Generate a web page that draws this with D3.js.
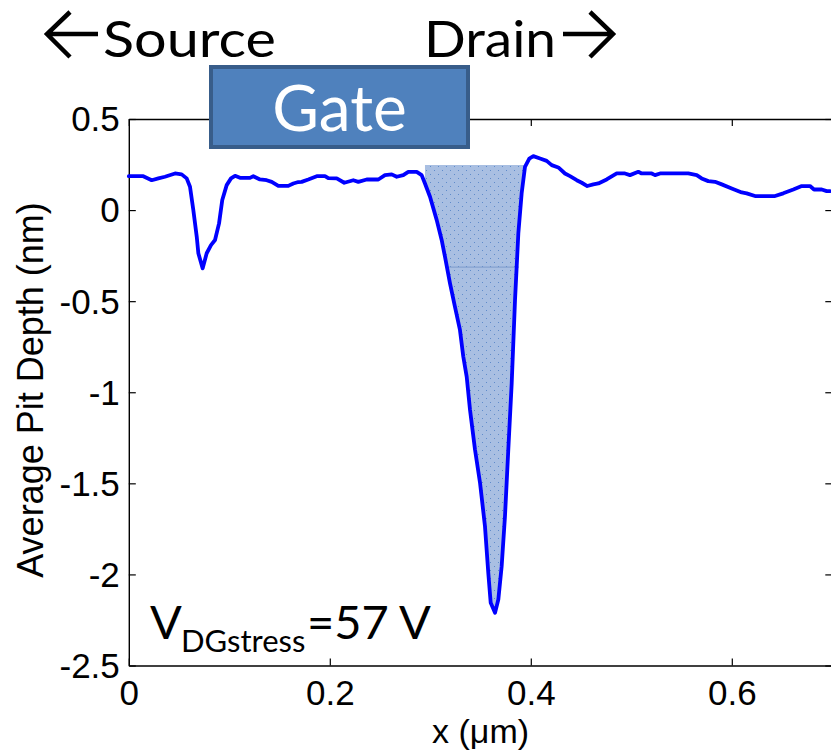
<!DOCTYPE html>
<html>
<head>
<meta charset="utf-8">
<script src="https://cdn.jsdelivr.net/npm/d3@7"></script>
<style>
  html, body { margin: 0; padding: 0; background: #fff; }
  svg { display: block; }
</style>
</head>
<body>
<div id="chart"></div>
<script>
// pit depth profile
const xPos = [0, 0.0029, 0.0144, 0.0228, 0.0294, 0.036, 0.046, 0.0526, 0.0576, 0.0609,
  0.0642, 0.0676, 0.0692, 0.0735, 0.0775, 0.0818, 0.0858, 0.0898, 0.093, 0.0974,
  0.1017, 0.1057, 0.1106, 0.1206, 0.1239, 0.1305, 0.1372, 0.1422, 0.1488, 0.1587,
  0.1637, 0.1687, 0.172, 0.1786, 0.187, 0.1952, 0.1985, 0.2069, 0.2144, 0.2234,
  0.2284, 0.2367, 0.2483, 0.2549, 0.2616, 0.2666, 0.2731, 0.2781, 0.2865, 0.2914,
  0.2947, 0.2997, 0.3064, 0.3113, 0.3146, 0.3196, 0.3245, 0.3295, 0.3328, 0.3362,
  0.3395, 0.3445, 0.3495, 0.3544, 0.3577, 0.3601, 0.3644, 0.3677, 0.371, 0.3743,
  0.3776, 0.381, 0.3843, 0.3876, 0.3909, 0.3942, 0.3985, 0.4025, 0.4092, 0.4158,
  0.4208, 0.4274, 0.434, 0.439, 0.4457, 0.4507, 0.4562, 0.4622, 0.4672, 0.4755,
  0.4855, 0.4937, 0.4987, 0.507, 0.5103, 0.5203, 0.5236, 0.5286, 0.5567, 0.5651,
  0.57, 0.5766, 0.5833, 0.59, 0.5999, 0.6099, 0.6148, 0.6231, 0.643, 0.6512,
  0.6612, 0.6696, 0.6778, 0.6818, 0.6895, 0.6944, 0.6977];
const depth = [0.186, 0.186, 0.186, 0.164, 0.174, 0.183, 0.201, 0.196, 0.174, 0.128,
  0.000, -0.146, -0.237, -0.320, -0.237, -0.192, -0.164, -0.073, 0.055, 0.137,
  0.174, 0.188, 0.177, 0.177, 0.186, 0.168, 0.164, 0.155, 0.133, 0.133,
  0.146, 0.154, 0.155, 0.168, 0.186, 0.186, 0.175, 0.174, 0.150, 0.164,
  0.155, 0.168, 0.168, 0.192, 0.196, 0.183, 0.192, 0.210, 0.210, 0.192,
  0.146, 0.073, -0.055, -0.164, -0.256, -0.402, -0.530, -0.658, -0.804, -0.914,
  -1.096, -1.316, -1.498, -1.736, -1.992, -2.156, -2.211, -2.138, -1.956, -1.681,
  -1.316, -0.950, -0.493, -0.128, 0.092, 0.237, 0.283, 0.296, 0.283, 0.270,
  0.247, 0.234, 0.201, 0.186, 0.164, 0.150, 0.132, 0.141, 0.146, 0.168,
  0.201, 0.201, 0.192, 0.210, 0.201, 0.201, 0.192, 0.201, 0.201, 0.192,
  0.174, 0.159, 0.155, 0.141, 0.119, 0.097, 0.092, 0.077, 0.077, 0.092,
  0.113, 0.132, 0.132, 0.113, 0.113, 0.104, 0.104];

// shaded pit volume: x span, top level, and the seam line inside it
const shadeRange = [0.2938, 0.3942];
const shadeTop = 0.247;
const seam = { y: -0.313, x0: 0.3176, x1: 0.388 };

const xTicks = [0, 0.2, 0.4, 0.6];
const yTicks = [-2.5, -2, -1.5, -1, -0.5, 0, 0.5];

const width = 831;
const height = 751;

const x = d3.scaleLinear().domain([0, 0.7]).range([128.8, 832.3]);
const y = d3.scaleLinear().domain([-2.5, 0.5]).range([665.5, 119]);

const svg = d3.select("#chart")
  .append("svg")
  .attr("width", width)
  .attr("height", height);

// dotted fill for the pit
const pat = svg.append("defs").append("pattern")
  .attr("id", "dots")
  .attr("patternUnits", "userSpaceOnUse")
  .attr("width", 8).attr("height", 8);
pat.append("rect").attr("width", 8).attr("height", 8).attr("fill", "#a9bfe2");
pat.append("rect").attr("x", 2).attr("y", 2).attr("width", 1).attr("height", 1).attr("fill", "#5f8bca");
pat.append("rect").attr("x", 6).attr("y", 6).attr("width", 1).attr("height", 1).attr("fill", "#5f8bca");

const points = xPos.map((v, i) => ({ x: v, d: depth[i] }));

// ---- shaded area ----
const shadePts = points.filter(p => p.x >= shadeRange[0] && p.x <= shadeRange[1]);
const area = d3.area()
  .x(p => x(p.x))
  .y0(y(shadeTop))
  .y1(p => y(p.d));

svg.append("path")
  .datum(shadePts)
  .attr("d", area)
  .attr("fill", "url(#dots)");

svg.append("line")
  .attr("x1", x(seam.x0)).attr("x2", x(seam.x1))
  .attr("y1", y(seam.y)).attr("y2", y(seam.y))
  .attr("stroke", "#7c9bcb")
  .attr("stroke-width", 1);

// ---- axes ----
const fmt = d => String(d);
const tickFont = "'Liberation Sans', Arial, sans-serif";

const gx = svg.append("g")
  .attr("transform", `translate(0,${y(-2.5)})`)
  .call(d3.axisBottom(x).tickValues(xTicks).tickFormat(fmt).tickSizeInner(-7).tickSizeOuter(0));
gx.selectAll("text").attr("y", 39).attr("dy", null);

svg.append("g")
  .attr("transform", `translate(0,${y(0.5)})`)
  .call(d3.axisTop(x).tickValues(xTicks).tickFormat("").tickSizeInner(-7).tickSizeOuter(0));

const gy = svg.append("g")
  .attr("transform", `translate(${x(0)},0)`)
  .call(d3.axisLeft(y).tickValues(yTicks).tickFormat(fmt).tickSizeInner(-7).tickSizeOuter(0));
gy.selectAll("text").attr("x", -9).attr("dy", "0.34em");

svg.append("g")
  .attr("transform", `translate(${x(0.7)},0)`)
  .call(d3.axisRight(y).tickValues(yTicks).tickFormat("").tickSizeInner(-7).tickSizeOuter(0));

svg.selectAll(".domain").attr("stroke", "#000").attr("stroke-width", 1.4);
svg.selectAll(".tick line").attr("stroke", "#000").attr("stroke-width", 1.2);
svg.selectAll(".tick text")
  .attr("fill", "#000")
  .style("font-family", tickFont)
  .style("font-size", "35px");

// ---- profile line ----
const line = d3.line()
  .x(p => x(p.x))
  .y(p => y(p.d));

svg.append("path")
  .datum(points)
  .attr("d", line)
  .attr("fill", "none")
  .attr("stroke", "#0000ff")
  .attr("stroke-width", 3.8)
  .attr("stroke-linejoin", "round")
  .attr("stroke-linecap", "round");

// ---- axis titles ----
svg.append("text")
  .attr("x", x(0.35))
  .attr("y", 743)
  .attr("text-anchor", "middle")
  .style("font-family", tickFont)
  .style("font-size", "34px")
  .text("x (\u03bcm)");

svg.append("text")
  .attr("transform", "translate(43,390) rotate(-90)")
  .attr("text-anchor", "middle")
  .style("font-family", tickFont)
  .style("font-size", "36px")
  .text("Average Pit Depth (nm)");

// ---- annotations ----
const noteFont = "Lato, 'Open Sans', sans-serif";

// gate box
svg.append("rect")
  .attr("x", 211).attr("y", 67)
  .attr("width", 257).attr("height", 80)
  .attr("fill", "#4f81bd")
  .attr("stroke", "#385d8a")
  .attr("stroke-width", 4);

svg.append("text")
  .attr("x", 339.5).attr("y", 131)
  .attr("text-anchor", "middle")
  .attr("fill", "#fff")
  .style("font-family", noteFont)
  .style("font-size", "64px")
  .text("Gate");

// source / drain labels with their arrows
svg.append("text")
  .attr("x", 103).attr("y", 57)
  .attr("textLength", 173)
  .attr("lengthAdjust", "spacingAndGlyphs")
  .style("font-family", noteFont)
  .style("font-size", "51px")
  .text("Source");

svg.append("text")
  .attr("x", 424).attr("y", 57)
  .attr("textLength", 132)
  .attr("lengthAdjust", "spacingAndGlyphs")
  .style("font-family", noteFont)
  .style("font-size", "51px")
  .text("Drain");

const arrow = svg.append("g")
  .attr("fill", "none")
  .attr("stroke", "#000")
  .attr("stroke-width", 4.5)
  .attr("stroke-linejoin", "miter");
arrow.append("path").attr("d", "M98,34 H48 M70,12 L47,34 L70,57");
arrow.append("path").attr("d", "M563,34 H612 M590,12 L613,34 L590,57");

// V_DGstress label
const vt = svg.append("text")
  .attr("y", 639)
  .style("font-family", noteFont)
  .style("font-size", "47px");
vt.append("tspan").attr("x", 150).text("V");
vt.append("tspan").attr("x", 181).attr("y", 652).style("font-size", "31px").text("DGstress");
vt.append("tspan").attr("x", 307).attr("y", 639).text("=57 V");
</script>
</body>
</html>
